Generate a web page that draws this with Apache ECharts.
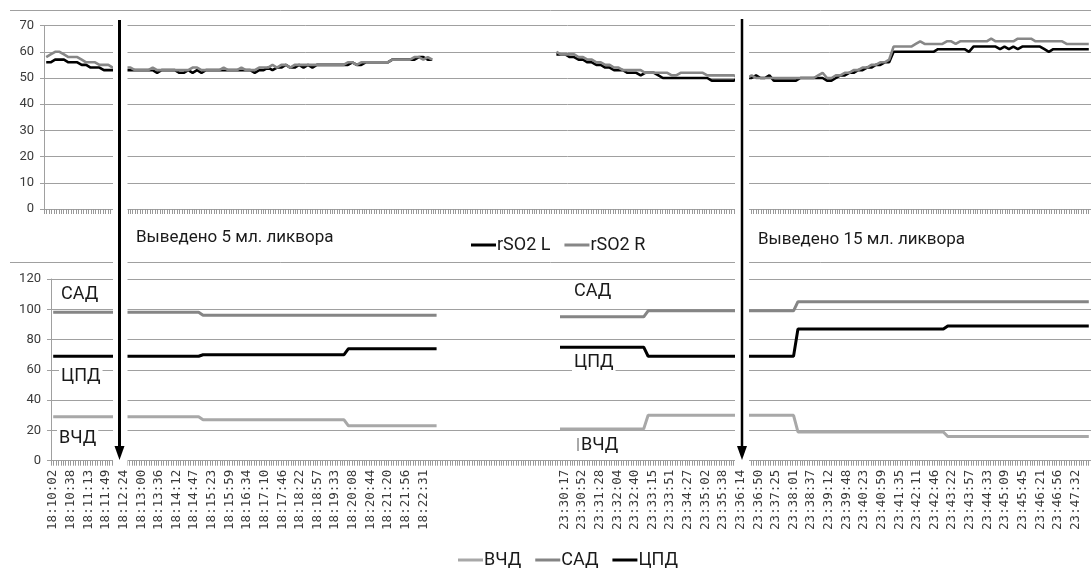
<!DOCTYPE html>
<html><head><meta charset="utf-8">
<script src="https://cdn.jsdelivr.net/npm/echarts@6/dist/echarts.min.js"></script>
<style>html,body{margin:0;padding:0;background:#fff}#c{width:1091px;height:570px}</style>
</head><body><div id="c"></div>
<script>
// x-axis tick labels (one per label slot, '' = unlabeled slot)
const timeLabels = [
 '18:10:02','18:10:38','18:11:13','18:11:49','18:12:24','18:13:00','18:13:36','18:14:12','18:14:47','18:15:23','18:15:59',
 '18:16:34','18:17:10','18:17:46','18:18:22','18:18:57','18:19:33','18:20:08','18:20:44','18:21:20','18:21:56','18:22:31',
 '','','','','','','',
 '23:30:17','23:30:52','23:31:28','23:32:04','23:32:40','23:33:15','23:33:51','23:34:27','23:35:02','23:35:38','23:36:14',
 '23:36:50','23:37:25','23:38:01','23:38:37','23:39:12','23:39:48','23:40:23','23:40:59','23:41:35','23:42:11','23:42:46',
 '23:43:22','23:43:57','23:44:33','23:45:09','23:45:45','23:46:21','23:46:56','23:47:32'
];
const SUB = 4;      // samples per label slot
const GAP = 27;     // samples without data between the two recordings

// rSO2 L, first recording (18:10 - 18:22)
const rso2L_1 = [
 56,56,57,57,57,56,56,56,55,55,
 54,54,54,53,53,53,53,53,53,53,
 53,53,53,53,53,52,53,53,53,53,
 52,52,53,52,53,52,53,53,53,53,
 53,53,53,53,53,53,53,52,53,53,
 54,53,54,54,55,54,54,55,54,55,
 54,55,55,55,55,55,55,55,55,56,
 55,55,56,56,56,56,56,56,57,57,
 57,57,57,57,58,58,57,57
];
// rSO2 L, second recording (23:30 - 23:47)
const rso2L_2 = [
 59,59,59,58,58,57,57,56,56,55,
 55,54,54,53,53,53,52,52,52,51,
 52,52,52,51,50,50,50,50,50,50,
 50,50,50,50,50,49,49,49,49,49,
 49,
 50,50,50,50,51,50,50,51,49,49,
 49,49,49,49,50,50,50,50,50,50,
 49,49,50,51,51,52,52,53,53,54,
 54,55,55,56,56,60,60,60,60,60,
 60,60,60,60,60,61,61,61,61,61,
 61,61,60,62,62,62,62,62,62,61,
 62,61,62,61,62,62,62,62,62,61,
 60,61,61,61,61,61,61,61,61,61
];
const rso2R_1 = [
 58,59,60,60,59,58,58,58,57,56,
 56,56,55,55,55,54,54,54,54,54,
 53,53,53,53,54,53,53,53,53,53,
 53,53,53,54,54,53,53,53,53,53,
 54,53,53,53,54,53,53,53,54,54,
 54,55,54,55,55,54,55,55,55,55,
 55,55,55,55,55,55,55,55,56,56,
 55,56,56,56,56,56,56,56,57,57,
 57,57,57,58,58,57,58,57
];
const rso2R_2 = [
 60,59,59,59,59,58,58,57,57,56,
 56,55,55,54,54,53,53,53,53,53,
 52,52,52,52,52,52,51,51,52,52,
 52,52,52,52,51,51,51,51,51,51,
 51,
 50,50,50,51,50,50,50,50,50,50,
 50,50,50,50,50,50,50,50,51,52,
 50,50,51,51,52,52,53,53,54,54,
 55,55,56,56,57,62,62,62,62,62,
 63,64,63,63,63,63,63,64,64,63,
 64,64,64,64,64,64,64,65,64,64,
 64,64,64,65,65,65,65,64,64,64,
 64,64,64,64,63,63,63,63,63,63
];
// pressures, first recording
const sad_1 = [
 98,98,98,98,98,98,98,98,98,98,
 98,98,98,98,98,98,98,98,98,98,
 98,98,98,98,98,98,98,98,98,98,
 98,98,98,98,96,96,96,96,96,96,
 96,96,96,96,96,96,96,96,96,96,
 96,96,96,96,96,96,96,96,96,96,
 96,96,96,96,96,96,96,96,96,96,
 96,96,96,96,96,96,96,96,96,96,
 96,96,96,96,96,96,96,96
];
const cpd_1 = [
 69,69,69,69,69,69,69,69,69,69,
 69,69,69,69,69,69,69,69,69,69,
 69,69,69,69,69,69,69,69,69,69,
 69,69,69,69,70,70,70,70,70,70,
 70,70,70,70,70,70,70,70,70,70,
 70,70,70,70,70,70,70,70,70,70,
 70,70,70,70,70,70,70,74,74,74,
 74,74,74,74,74,74,74,74,74,74,
 74,74,74,74,74,74,74,74
];
const vcd_1 = [
 29,29,29,29,29,29,29,29,29,29,
 29,29,29,29,29,29,29,29,29,29,
 29,29,29,29,29,29,29,29,29,29,
 29,29,29,29,27,27,27,27,27,27,
 27,27,27,27,27,27,27,27,27,27,
 27,27,27,27,27,27,27,27,27,27,
 27,27,27,27,27,27,27,23,23,23,
 23,23,23,23,23,23,23,23,23,23,
 23,23,23,23,23,23,23,23
];
// pressures, second recording
const sad_2 = [
 95,95,95,95,95,95,95,95,95,95,
 95,95,95,95,95,95,95,95,95,95,
 99,99,99,99,99,99,99,99,99,99,
 99,99,99,99,99,99,99,99,99,99,
 99,99,99,99,99,99,99,99,99,99,
 99,99,99,99,105,105,105,105,105,105,
 105,105,105,105,105,105,105,105,105,105,
 105,105,105,105,105,105,105,105,105,105,
 105,105,105,105,105,105,105,105,105,105,
 105,105,105,105,105,105,105,105,105,105,
 105,105,105,105,105,105,105,105,105,105,
 105,105,105,105,105,105,105,105,105,105,
 105
];
const cpd_2 = [
 75,75,75,75,75,75,75,75,75,75,
 75,75,75,75,75,75,75,75,75,75,
 69,69,69,69,69,69,69,69,69,69,
 69,69,69,69,69,69,69,69,69,69,
 69,69,69,69,69,69,69,69,69,69,
 69,69,69,69,87,87,87,87,87,87,
 87,87,87,87,87,87,87,87,87,87,
 87,87,87,87,87,87,87,87,87,87,
 87,87,87,87,87,87,87,87,89,89,
 89,89,89,89,89,89,89,89,89,89,
 89,89,89,89,89,89,89,89,89,89,
 89,89,89,89,89,89,89,89,89,89,
 89
];
const vcd_2 = [
 21,21,21,21,21,21,21,21,21,21,
 21,21,21,21,21,21,21,21,21,21,
 30,30,30,30,30,30,30,30,30,30,
 30,30,30,30,30,30,30,30,30,30,
 30,30,30,30,30,30,30,30,30,30,
 30,30,30,30,19,19,19,19,19,19,
 19,19,19,19,19,19,19,19,19,19,
 19,19,19,19,19,19,19,19,19,19,
 19,19,19,19,19,19,19,19,16,16,
 16,16,16,16,16,16,16,16,16,16,
 16,16,16,16,16,16,16,16,16,16,
 16,16,16,16,16,16,16,16,16,16,
 16
];

function join(a, b) { return a.concat(new Array(GAP).fill(null), b); }
const cats = [];
timeLabels.forEach((t, s) => { for (let k = 0; k < SUB; k++) cats.push(s + '_' + k); });

const FONT = 'Roboto';
const GRID_C = '#a0a0a0';
function catAxis(gi, labels) {
  return {
    type: 'category', gridIndex: gi, data: cats, position: 'bottom',
    axisLine: {show: false}, axisTick: {show: false}, splitLine: {show: false},
    axisLabel: labels ? {
      interval: 0, rotate: 90, margin: 9, fontFamily: 'DejaVu Sans Mono', fontSize: 12.5, color: '#3a3a3a',
      formatter: (v, i) => (i % SUB === 0 ? timeLabels[i / SUB] : '')
    } : {show: false}
  };
}
function tickAxis(gi) {
  return {
    type: 'value', gridIndex: gi, position: 'bottom', min: 0, max: 425, interval: 1,
    axisLine: {show: true, onZero: false, lineStyle: {color: GRID_C, width: 1}},
    axisTick: {show: true, length: 5, lineStyle: {color: '#999', width: 1}},
    axisLabel: {show: false}, splitLine: {show: false}
  };
}
function valAxis(gi, max, step) {
  return {
    type: 'value', gridIndex: gi, min: 0, max: max, interval: step,
    axisLine: {show: true, lineStyle: {color: GRID_C}},
    axisTick: {show: true, length: 4, lineStyle: {color: GRID_C}},
    axisLabel: {margin: 10, fontFamily: FONT, fontSize: 13, color: '#3a3a3a'},
    splitLine: {show: true, lineStyle: {color: GRID_C, width: 1}}
  };
}
function line(name, xi, yi, data, color, w) {
  return {name: name, type: 'line', xAxisIndex: xi, yAxisIndex: yi, data: data,
    symbol: 'none', showSymbol: false, connectNulls: false,
    lineStyle: {color: color, width: w}, itemStyle: {color: color}, animation: false};
}
function txt(x, y, s, size) {
  return {type: 'text', z: 60, silent: true,
    style: {x: x, y: y, text: s, font: (size || 18) + 'px ' + FONT, fill: '#1a1a1a', textVerticalAlign: 'middle',
      backgroundColor: '#fff', padding: [2, 2]}};
}
const chart = echarts.init(document.getElementById('c'), null, {renderer: 'canvas'});
chart.setOption({
  animation: false,
  backgroundColor: '#fff',
  grid: [
    {left: 44, top: 25.6, width: 1047, height: 183.4},
    {left: 51, top: 279, width: 1040, height: 181.7}
  ],
  xAxis: [catAxis(0, false), catAxis(1, true), tickAxis(0), tickAxis(1)],
  yAxis: [valAxis(0, 70, 10), valAxis(1, 120, 20)],
  legend: [
    {data: ['rSO2 L', 'rSO2 R'], left: 466, top: 231, icon: 'rect', itemWidth: 25, itemHeight: 3, itemGap: 14,
     textStyle: {fontFamily: FONT, fontSize: 18, color: '#1a1a1a', padding: [0, 0, 0, -4]}},
    {data: ['ВЧД', 'САД', 'ЦПД'], left: 453, top: 546, icon: 'rect', itemWidth: 25, itemHeight: 3, itemGap: 14,
     textStyle: {fontFamily: FONT, fontSize: 18, color: '#1a1a1a', padding: [0, 0, 0, -4]}}
  ],
  series: [
    line('rSO2 L', 0, 0, join(rso2L_1, rso2L_2), '#000000', 2.6),
    line('rSO2 R', 0, 0, join(rso2R_1, rso2R_2), '#878787', 2.6),
    line('ВЧД', 1, 1, join(vcd_1, vcd_2), '#a8a8a8', 3),
    line('САД', 1, 1, join(sad_1, sad_2), '#858585', 3),
    line('ЦПД', 1, 1, join(cpd_1, cpd_2), '#000000', 3)
  ],
  graphic: [
    {type: 'line', z: 40, silent: true, shape: {x1: 10, y1: 10.5, x2: 1091, y2: 10.5}, style: {stroke: GRID_C, lineWidth: 1}},
    {type: 'line', z: 40, silent: true, shape: {x1: 10, y1: 262.5, x2: 1091, y2: 262.5}, style: {stroke: GRID_C, lineWidth: 1}},
    {type: 'rect', z: 50, silent: true, shape: {x: 113, y: 14, width: 14.5, height: 453}, style: {fill: '#fff'}},
    {type: 'rect', z: 50, silent: true, shape: {x: 735, y: 14, width: 14, height: 453}, style: {fill: '#fff'}},
    {type: 'line', z: 55, silent: true, shape: {x1: 119.5, y1: 20, x2: 119.5, y2: 449}, style: {stroke: '#000', lineWidth: 3}},
    {type: 'polygon', z: 55, silent: true, shape: {points: [[114.5, 446], [124.5, 446], [119.5, 460]]}, style: {fill: '#000'}},
    {type: 'line', z: 55, silent: true, shape: {x1: 742, y1: 19, x2: 742, y2: 449}, style: {stroke: '#000', lineWidth: 2.5}},
    {type: 'polygon', z: 55, silent: true, shape: {points: [[737, 446], [747, 446], [742, 460]]}, style: {fill: '#000'}},
    txt(134, 238, 'Выведено 5 мл. ликвора', 17),
    txt(756, 240, 'Выведено 15 мл. ликвора', 17),
    txt(59, 294, 'САД'),
    txt(59, 376, 'ЦПД'),
    txt(57, 438, 'ВЧД'),
    txt(572, 291, 'САД'),
    txt(572, 362, 'ЦПД'),
    txt(579, 445, 'ВЧД'),
    {type: 'line', z: 61, silent: true, shape: {x1: 578, y1: 438, x2: 578, y2: 451}, style: {stroke: '#555', lineWidth: 1}}
  ]
});
</script>
</body></html>
